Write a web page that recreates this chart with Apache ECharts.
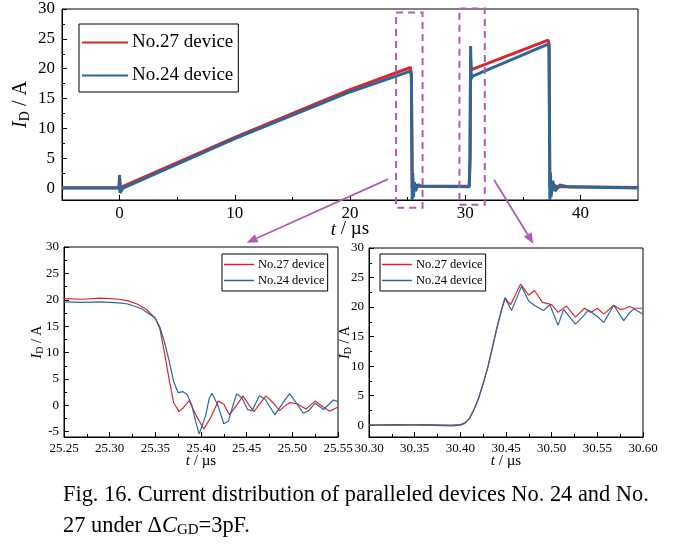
<!DOCTYPE html>
<html><head><meta charset="utf-8">
<script src="https://cdn.jsdelivr.net/npm/echarts@6/dist/echarts.min.js"></script>
<style>html,body{margin:0;padding:0;background:#fff}#c{width:683px;height:553px}</style>
</head><body><div id="c"></div>
<script>
// ---------------- data ----------------
const NAME27 = 'No.27 device';
const NAME24 = 'No.24 device';

// overview trace (t in µs, I in A)
const topRed = [[-5,0.05],[-0.05,0.05],[0,1.8],[0.05,0.2],[0.3,0.3],[10,8.5],[20,16.5],[25.25,20.2],[25.33,19],[25.4,0],[25.45,1.2],[25.5,-0.8],[25.6,0.6],[25.8,0.3],[30.35,0.3],[30.42,5],[30.47,21.5],[30.5,20.4],[30.6,19.9],[37.2,24.8],[37.28,24.2],[37.35,0],[37.4,1.8],[37.45,-1],[37.6,0.6],[38,0.2],[45,0.1]];
const topBlue = [[-5,0],[-0.05,0],[0,2.2],[0.03,-0.8],[0.3,0],[10,8.3],[20,16.1],[25.25,19.6],[25.33,18.6],[25.4,-2],[25.45,2.5],[25.5,-1.5],[25.6,1],[25.7,-0.5],[25.9,0.6],[26.2,0.3],[30.35,0.2],[30.42,5],[30.47,23.8],[30.5,20.2],[30.55,18.3],[30.6,18.7],[37.2,24.1],[37.28,23.6],[37.35,-2],[37.4,2.6],[37.45,-1.5],[37.6,1.2],[37.8,-0.5],[38.2,0.5],[39,0.2],[45,0]];

// turn-off detail
const offRed = [[25.25,20.2],[25.27,20.1],[25.29,20.3],[25.30,20.2],[25.31,20.1],[25.32,19.8],[25.33,19.2],[25.34,18.2],[25.35,16.5],[25.355,14.5],[25.36,10],[25.365,5],[25.37,0.5],[25.376,-1.2],[25.381,-0.4],[25.387,0.9],[25.395,-2],[25.403,-4.5],[25.41,-2.5],[25.419,0.8],[25.425,0.2],[25.431,-1.8],[25.439,0],[25.446,1.8],[25.452,0.2],[25.458,-1.2],[25.465,0.4],[25.471,1.8],[25.479,0.5],[25.486,-1],[25.492,-0.1],[25.497,0.5],[25.505,0.3],[25.515,-0.7],[25.525,0.8],[25.533,-0.2],[25.541,-1.1],[25.55,-0.3]];
const offBlue = [[25.25,19.6],[25.27,19.5],[25.29,19.6],[25.30,19.5],[25.31,19.4],[25.32,19.2],[25.335,18.3],[25.35,16.5],[25.355,14.8],[25.36,12],[25.365,8.5],[25.37,4.5],[25.375,2.4],[25.38,2.6],[25.385,2],[25.39,0],[25.394,-3],[25.398,-5.4],[25.405,-2],[25.409,1.3],[25.412,2.3],[25.418,0.2],[25.425,-3.5],[25.43,-3],[25.435,0],[25.439,2.2],[25.445,1.4],[25.451,-0.8],[25.456,-1],[25.464,1.8],[25.47,1.2],[25.481,-1.8],[25.487,-0.2],[25.497,2.2],[25.503,0.8],[25.512,-1.5],[25.518,-1],[25.525,0.4],[25.534,-0.8],[25.545,1.0],[25.55,0.7]];

// turn-on detail
const onRed = [[30.30,0],[30.33,0.1],[30.36,0],[30.39,-0.1],[30.40,0],[30.405,0.3],[30.41,1.1],[30.415,2.6],[30.42,4.5],[30.425,7],[30.43,9.7],[30.435,13],[30.44,16.4],[30.445,19.4],[30.449,21.5],[30.455,20.4],[30.46,22],[30.466,23.9],[30.475,22],[30.481,22.8],[30.49,20.8],[30.5,20.4],[30.507,19.1],[30.516,20.2],[30.526,18.3],[30.536,19.8],[30.543,19.1],[30.55,19.8],[30.557,18.8],[30.568,20.3],[30.575,19.6],[30.58,19.7],[30.585,20.1],[30.59,19.8],[30.6,19.8]];
const onBlue = [[30.30,0],[30.33,0],[30.36,0.1],[30.39,0],[30.40,0.1],[30.405,0.4],[30.41,1.2],[30.415,2.7],[30.42,4.6],[30.425,7.1],[30.43,9.8],[30.435,13.1],[30.44,16.5],[30.445,19.5],[30.449,21.6],[30.456,19.4],[30.467,23.5],[30.475,21],[30.481,20.3],[30.491,19.4],[30.498,20.4],[30.507,16.9],[30.513,19.6],[30.526,17.1],[30.535,18.5],[30.54,19.5],[30.55,18.4],[30.557,17.4],[30.568,20.3],[30.575,18.6],[30.579,17.7],[30.585,19.0],[30.59,19.7],[30.6,18.8]];

// axis ticks
const topXTicks = [0,10,20,30,40];
const topXMinor = [5,15,25,35];
const topYTicks = [0,5,10,15,20,25,30];
const topYMinor = [2.5,7.5,12.5,17.5,22.5,27.5];
const offXTicks = [25.25,25.30,25.35,25.40,25.45,25.50,25.55];
const offXMinor = [25.275,25.325,25.375,25.425,25.475,25.525];
const offYTicks = [-5,0,5,10,15,20,25,30];
const offYMinor = [-2.5,2.5,7.5,12.5,17.5,22.5,27.5];
const onXTicks = [30.30,30.35,30.40,30.45,30.50,30.55,30.60];
const onXMinor = [30.325,30.375,30.425,30.475,30.525,30.575];
const onYTicks = [0,5,10,15,20,25,30];
const onYMinor = [2.5,7.5,12.5,17.5,22.5,27.5];

// annotation anchors (data coordinates)
const zoomBoxes = [{x:[24.0,26.3], y:[29.4,-3.3]}, {x:[29.5,31.7], y:[30.1,-2.8]}];
const arrowFrom = [[23.3,1.5],[32.5,1.4]];
const arrowTo = [[25.45,30.8],[30.48,30.7]];

// ---------------- chart ----------------
const FF = '"Liberation Serif", "Times New Roman", serif';
const RED = '#d8262e', BLUE = '#2e6797';
const chart = echarts.init(document.getElementById('c'), null, {renderer:'canvas'});

function axes(dim, gi, min, max, major, minor, fs, dec, name, nameGap, nfs, lm){
  const pos = dim === 'x' ? 'bottom' : 'left';
  const rich = {
    i:{fontFamily:FF,fontSize:nfs,fontStyle:'italic',color:'#000'},
    s:{fontFamily:FF,fontSize:Math.round(nfs*0.68),color:'#000',verticalAlign:'bottom',padding:[nfs*0.45,0,0,0]},
    n:{fontFamily:FF,fontSize:nfs,color:'#000'}
  };
  const main = {
    type:'value', gridIndex:gi, min, max, position:pos,
    axisLine:{show:true,onZero:false,lineStyle:{color:'#000',width:1}},
    axisTick:{show:true,inside:true,length:5,customValues:major,lineStyle:{color:'#000'}},
    axisLabel:{customValues:major,fontFamily:FF,fontSize:fs,color:'#000',margin:lm,
      formatter:v=>Number(v).toFixed(dec)},
    splitLine:{show:false},
    name, nameLocation:'middle', nameGap, nameMoveOverlap:false, nameRotate: dim==='y'?90:0,
    nameTextStyle:{fontFamily:FF,fontSize:nfs,color:'#000',rich}
  };
  const mn = {
    type:'value', gridIndex:gi, min, max, position:pos,
    axisLine:{show:false,onZero:false},
    axisTick:{show:true,inside:true,length:3,customValues:minor,lineStyle:{color:'#000'}},
    axisLabel:{show:false}, splitLine:{show:false}
  };
  return [main, mn];
}

const xAxis = [
  ...axes('x',0,-5,45,topXTicks,topXMinor,17,0,'{i|t}{n| / µs}',20,19,5),
  ...axes('x',1,25.25,25.55,offXTicks,offXMinor,13,2,'{i|t}{n| / µs}',17,15,5),
  ...axes('x',2,30.30,30.60,onXTicks,onXMinor,13,2,'{i|t}{n| / µs}',17,15,5)
];
const yAxis = [
  ...axes('y',0,-2,30,topYTicks,topYMinor,17,0,'{i|I}{s|D}{n| / A}',30,20,7),
  ...axes('y',1,-6,30,offYTicks,offYMinor,13,0,'{i|I}{s|D}{n| / A}',19,14,5),
  ...axes('y',2,-2,30,onYTicks,onYMinor,13,0,'{i|I}{s|D}{n| / A}',16,14,5)
];

function legend(left, top, fs, iw, gap, pad){
  return {data:[NAME27,NAME24], orient:'vertical', left, top, selectedMode:false,
    icon:'rect', padding:pad, itemGap:gap, itemWidth:iw, itemHeight:fs>15?2:1.5,
    borderColor:'#000', borderWidth:1, backgroundColor:'#fff',
    textStyle:{fontFamily:FF,fontSize:fs,color:'#000',padding:[0,0,0,-1]}};
}

function ser(name, data, xi, yi, color, w){
  return {name, type:'line', data, xAxisIndex:xi, yAxisIndex:yi, symbol:'none',
    lineStyle:{color, width:w}, itemStyle:{color}, animation:false, silent:true, clip:true, z:2};
}

chart.setOption({
  animation:false,
  grid:[
    {left:62, top:9, width:576, height:191, show:true, borderColor:'#000', borderWidth:1, backgroundColor:'transparent'},
    {left:64, top:247, width:274, height:190, show:true, borderColor:'#000', borderWidth:1},
    {left:369, top:248, width:274, height:189, show:true, borderColor:'#000', borderWidth:1}
  ],
  xAxis, yAxis,
  legend:[legend(79,24,19,46,14,[9,5,7,3]), legend(222,254,12.5,30,3,[4,3,4,2]), legend(380,254,12.5,30,3,[4,3,4,2])],
  series:[
    ser(NAME27, topRed, 0, 0, RED, 3),
    ser(NAME24, topBlue, 0, 0, BLUE, 3),
    ser(NAME27, offRed, 2, 2, RED, 1.2),
    ser(NAME24, offBlue, 2, 2, BLUE, 1.2),
    ser(NAME27, onRed, 4, 4, RED, 1.2),
    ser(NAME24, onBlue, 4, 4, BLUE, 1.2)
  ]
});

// annotations computed from data coordinates
const PURPLE = '#b05cb3';
const g = [];
zoomBoxes.forEach(b => {
  const p1 = chart.convertToPixel({xAxisIndex:0,yAxisIndex:0},[b.x[0],b.y[0]]);
  const p2 = chart.convertToPixel({xAxisIndex:0,yAxisIndex:0},[b.x[1],b.y[1]]);
  g.push({type:'rect', shape:{x:p1[0],y:p1[1],width:p2[0]-p1[0],height:p2[1]-p1[1]},
    style:{fill:'none',stroke:PURPLE,lineWidth:2,lineDash:[7,5]}, z:10});
});
const targets = [{xAxisIndex:2,yAxisIndex:2},{xAxisIndex:4,yAxisIndex:4}];
arrowFrom.forEach((f,i) => {
  const a = chart.convertToPixel({xAxisIndex:0,yAxisIndex:0}, f);
  const b = chart.convertToPixel(targets[i], arrowTo[i]);
  const dx=b[0]-a[0], dy=b[1]-a[1], L=Math.hypot(dx,dy), ux=dx/L, uy=dy/L;
  const hl=11, hw=4.5;
  const base=[b[0]-ux*hl, b[1]-uy*hl];
  g.push({type:'line', shape:{x1:a[0],y1:a[1],x2:base[0],y2:base[1]}, style:{stroke:PURPLE,lineWidth:1.8}, z:10});
  g.push({type:'polygon', shape:{points:[[b[0],b[1]],[base[0]-uy*hw,base[1]+ux*hw],[base[0]+uy*hw,base[1]-ux*hw]]},
    style:{fill:PURPLE}, z:10});
});
g.push({type:'text', left:63, top:484, style:{text:'Fig. 16. Current distribution of paralleled devices No. 24 and No.',
  font:'22.4px "Liberation Serif"', fill:'#000'}});
g.push({type:'text', left:63, top:515, style:{text:'{n|27 under Δ}{i|C}{s|GD}{n|=3pF.}',
  rich:{n:{fontFamily:FF,fontSize:22.4,lineHeight:24,fill:'#000'},i:{fontFamily:FF,fontSize:22.4,lineHeight:24,fontStyle:'italic',fill:'#000'},
        s:{fontFamily:FF,fontSize:15,lineHeight:10,fill:'#000',verticalAlign:'bottom'}}}});
chart.setOption({graphic:g});
</script>
</body></html>
